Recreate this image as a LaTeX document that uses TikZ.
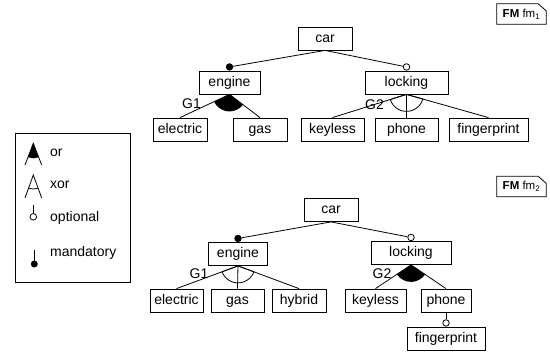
\documentclass[tikz,border=0pt]{standalone}
\usepackage{fontspec}
\setmainfont{Liberation Sans}
\usetikzlibrary{calc}
\tikzset{
  fbox/.style={draw, line width=0.8pt, minimum height=23pt, inner sep=0pt,
    text height=10pt, text depth=3pt, font=\fontsize{14}{16}\selectfont},
  lbl/.style={inner sep=0pt, font=\fontsize{14}{16}\selectfont},
  conn/.style={line width=0.8pt},
  mand/.style={circle, draw, fill=black, line width=0.8pt, inner sep=0pt, minimum size=6.5pt, anchor=south},
  opt/.style={circle, draw, fill=white, line width=0.8pt, inner sep=0pt, minimum size=6.5pt, anchor=south},
  fmtag/.style={inner sep=0pt, minimum width=49pt, minimum height=20pt, font=\fontsize{11.5}{13}\selectfont},
}
\newcommand\grparc[4]{%
  \path let \p3=(#1.south), \p1=($(#2.north)-(#1.south)$), \p2=($(#3.north)-(#1.south)$),
    \n1={atan2(\y1,\x1)+360}, \n2={atan2(\y2,\x2)+360} in
    [#4, line width=0.8pt] (\p3) -- ++(\n1:17pt) arc[start angle=\n1, end angle=\n2, radius=17pt] -- cycle;
}
\newcommand\fmshape[1]{%
  \draw[line width=0.8pt] (#1.south west) -- (#1.north west) -- ($(#1.north east)+(-8,0)$)
    -- ($(#1.north east)+(0,7)$) -- (#1.south east) -- cycle;
}
\begin{document}
\begin{tikzpicture}[x=1pt, y=-1pt]
\useasboundingbox (0,0) rectangle (550,354);

% ---------- FM fm1 ----------
\node[fmtag] (fm1) at (521.5,14) {\textbf{FM} fm\textsubscript{1}};
\fmshape{fm1}
\node[fbox, minimum width=54pt] (car1) at (325,38.5) {car};
\node[fbox, minimum width=61pt] (eng1) at (229.5,82.5) {engine};
\node[fbox, minimum width=83pt] (lock1) at (406.5,82.5) {locking};
\node[fbox, minimum width=54pt] (ele1) at (180,129.5) {electric};
\node[fbox, minimum width=54pt] (gas1) at (260,129.5) {gas};
\node[fbox, minimum width=63pt] (key1) at (332.5,129.5) {keyless};
\node[fbox, minimum width=63pt] (pho1) at (406.5,129.5) {phone};
\node[fbox, minimum width=79pt] (fin1) at (488.5,129.5) {fingerprint};

\node[mand] (d1) at (eng1.north) {};
\node[opt] (o1) at (lock1.north) {};
\draw[conn] (car1.south) -- (d1);
\draw[conn] (car1.south) -- (o1);
\grparc{eng1}{ele1}{gas1}{fill}
\draw[conn] (eng1.south) -- (ele1.north);
\draw[conn] (eng1.south) -- (gas1.north);
\grparc{lock1}{key1}{fin1}{draw}
\draw[conn] (lock1.south) -- (key1.north);
\draw[conn] (lock1.south) -- (pho1.north);
\draw[conn] (lock1.south) -- (fin1.north);
\node[lbl] (g11) at ($(eng1.south)+(-38,9)$) {G1};
\node[lbl] (g21) at ($(lock1.south)+(-32,10)$) {G2};

% ---------- FM fm2 ----------
\node[fmtag] (fm2) at (521.5,186.5) {\textbf{FM} fm\textsubscript{2}};
\fmshape{fm2}
\node[fbox, minimum width=54pt] (car2) at (331,210) {car};
\node[fbox, minimum width=59pt] (eng2) at (238,254) {engine};
\node[fbox, minimum width=80pt] (lock2) at (411,253) {locking};
\node[fbox, minimum width=53pt] (ele2) at (176.5,300.5) {electric};
\node[fbox, minimum width=53pt] (gas2) at (237.5,300.5) {gas};
\node[fbox, minimum width=54pt] (hyb2) at (299,300.5) {hybrid};
\node[fbox, minimum width=61pt] (key2) at (375.5,300.5) {keyless};
\node[fbox, minimum width=50pt] (pho2) at (446,300.5) {phone};
\node[fbox, minimum width=78pt] (fin2) at (446,338.5) {fingerprint};

\node[mand] (d2) at (eng2.north) {};
\node[opt] (o2) at (lock2.north) {};
\node[opt] (o3) at (fin2.north) {};
\draw[conn] (car2.south) -- (d2);
\draw[conn] (car2.south) -- (o2);
\draw[conn] (pho2.south) -- (o3);
\grparc{eng2}{ele2}{hyb2}{draw}
\draw[conn] (eng2.south) -- (ele2.north);
\draw[conn] (eng2.south) -- (gas2.north);
\draw[conn] (eng2.south) -- (hyb2.north);
\grparc{lock2}{key2}{pho2}{fill}
\draw[conn] (lock2.south) -- (key2.north);
\draw[conn] (lock2.south) -- (pho2.north);
\node[lbl] (g12) at ($(eng2.south)+(-39,8)$) {G1};
\node[lbl] (g22) at ($(lock2.south)+(-29,9)$) {G2};

% ---------- legend ----------
\draw[line width=0.8pt] (15,133) rectangle (130,282);
% or
\fill (33.3,143.3) -- ++(249.1:15pt) arc[start angle=249.1, end angle=290.9, radius=15pt] -- cycle;
\draw[conn] (25,165) -- (33.3,143.3) -- (41.7,165);
\node[lbl, anchor=west] (lor) at (50,153) {or};
% xor
\draw[conn] (25,198) -- (33.3,175) -- (41.7,198);
\draw[conn] (33.3,175) ++(250.2:14pt) arc[start angle=250.2, end angle=289.8, radius=14pt];
\node[lbl, anchor=west] (lxor) at (50,185) {xor};
% optional
\draw[conn] (33.3,205) -- (33.3,213.5);
\draw[line width=0.8pt, fill=white] (33.3,216.8) circle[radius=3.3pt];
\node[lbl, anchor=west] (lopt) at (50,218) {optional};
% mandatory
\draw[conn] (34.3,250) -- (34.3,261);
\fill (34.3,264) circle[radius=3.5pt];
\node[lbl, anchor=west] (lman) at (50,253) {mandatory};
\end{tikzpicture}
\end{document}
